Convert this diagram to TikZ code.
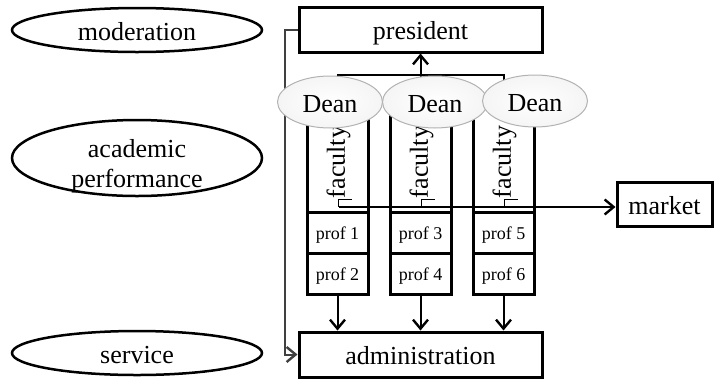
\documentclass[tikz,border=0pt]{standalone}
\usepackage{fontspec}
\setmainfont{Liberation Serif}
\usetikzlibrary{arrows.meta,shapes.geometric}

\begin{document}
\begin{tikzpicture}[x=1pt, y=-1pt, font=\fontsize{26}{30}\selectfont,
    txt/.style={text height=20pt, text depth=0pt},
    box/.style={draw, line width=3pt, inner sep=0pt, txt},
    oval/.style={draw, ellipse, line width=2.5pt, minimum width=250, minimum height=44, inner sep=0pt, txt},
    prof/.style={box, minimum width=61, minimum height=41, font=\fontsize{18}{20}\selectfont, text height=13pt},
    dean/.style={draw=gray!60, line width=1pt, ellipse, inner color=white, outer color=gray!8, minimum width=105, minimum height=52, inner sep=0pt, txt},
    conn/.style={line width=2pt},
    arr/.style={conn, -{Straight Barb[length=9pt, width=15pt, line width=2.4pt]}}]
    \useasboundingbox (0,0) rectangle (714,381);
    \coordinate (top) at (0,75); \coordinate (bus) at (0,207);
    % goals on the left
    \node[oval] (mod) at (137,30) {moderation};
    \node[oval, minimum height=76] (acad) at (137,158) {};
    \node[align=center, inner sep=0pt, text height=40pt, text depth=0pt] (acadtxt) at (137,167) {academic\\performance};
    \node[oval] (serv) at (137,353) {service};
    % main boxes
    \node[box, minimum width=243, minimum height=45] (pres) at (420.5,29.5) {president};
    \node[box, minimum width=243, minimum height=45] (adm) at (420.5,354.5) {administration};
    \node[box, minimum width=95, minimum height=44] (mk) at (664.5,204) {market};
    % faculty columns
    \foreach \i/\x/\a/\b in {1/337.5/1/2, 2/420.5/3/4, 3/503.5/5/6} {
        \node[box, minimum width=61, minimum height=117] (col\i) at (\x,153.5) {};
        \node[prof] (pa\i) at (\x,232.5) {prof \a};
        \node[prof] (pb\i) at (\x,273.5) {prof \b};
        \node[rotate=90, inner sep=1pt] (f\i) at (\x+1,162) {faculty};
        \draw[line width=1pt] (f\i.south west) -- (f\i.west) -- (f\i.west |- bus);
        \draw[arr] (pb\i.south) -- (pb\i.south |- adm.north);
    }
    \draw[arr] (f1.west |- bus) -- (mk.west |- bus);
    \draw[conn] (col1.north) -- (col1.north |- top) -- (col3.north |- top) -- (col3.north);
    \draw[arr] (col2.north) -- (pres.south);
    \draw[arr, draw=black!75] (pres.west) -- ++(-13,0) |- (adm.west);
    % deans on top
    \node[dean] (d1) at (330,102) {Dean};
    \node[dean] (d2) at (435,102) {Dean};
    \node[dean] (d3) at (535,101) {Dean};
\end{tikzpicture}
\end{document}
